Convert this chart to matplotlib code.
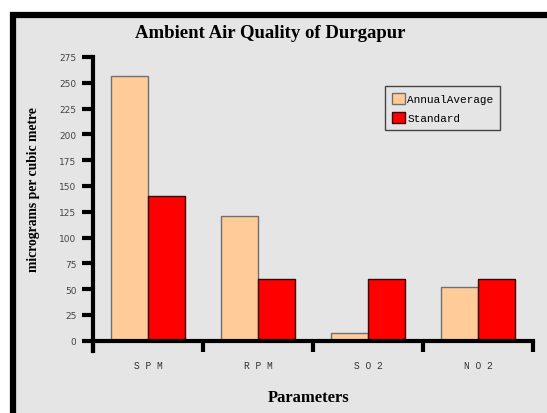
import numpy as np
import matplotlib
matplotlib.use("Agg")
import matplotlib.pyplot as plt
from matplotlib.patches import Rectangle

# data
categories = ["S P M", "R P M", "S O 2", "N O 2"]
annual_average = [257, 121, 7, 52]
standard = [140, 60, 60, 60]
y_ticks = list(range(0, 276, 25))

bg = "#e5e5e5"

fig = plt.figure(figsize=(5.47, 4.14), dpi=100)
fig.patch.set_facecolor("white")

# gray panel with thick black border (top/left visible, rest cropped)
frame = Rectangle((13 / 547, -0.05), 1.2, (414 - 16) / 414 + 0.05,
                  transform=fig.transFigure, facecolor=bg, edgecolor="black",
                  linewidth=4.5, zorder=0)
fig.patches.append(frame)

ax = fig.add_axes([93 / 547, 1 - 352 / 414, (533 - 93) / 547, (352 - 58) / 414])
ax.set_zorder(2)
ax.patch.set_alpha(0)

x = np.arange(len(categories))
w = 1 / 3
ax.bar(x - w / 2, annual_average, width=w, color="#ffcc99", edgecolor="#707070",
       linewidth=1, label="AnnualAverage", zorder=2)
ax.bar(x + w / 2, standard, width=w, color="#ff0000", edgecolor="#3a0000",
       linewidth=1, label="Standard", zorder=2)

ax.set_xlim(-0.5, len(categories) - 0.5)
ax.set_ylim(-10, 275)
ax.spines["top"].set_visible(False)
ax.spines["right"].set_visible(False)
ax.spines["bottom"].set_position(("data", 0))
for s in ["left", "bottom"]:
    ax.spines[s].set_linewidth(3)
ax.spines["left"].set_bounds(-10, 275)

ax.set_yticks(y_ticks)
ax.set_yticklabels([str(v) for v in y_ticks], fontsize=6.5, color="#444444",
                   family="DejaVu Sans")
ax.tick_params(axis="y", length=8, width=3, pad=4)

ax.set_xticks(np.arange(len(categories) + 1) - 0.5)
ax.set_xticklabels([])
ax.tick_params(axis="x", length=8, width=3, direction="out")
for i, c in enumerate(categories):
    ax.text(i, -24, c, ha="center", va="center", fontsize=6.9, color="#333333",
            family="Liberation Mono")

leg = ax.legend(loc="upper left", bbox_to_anchor=((385 - 93) / 440, 1 - (87 - 58) / 294),
                prop={"family": "Liberation Mono", "size": 8}, frameon=True,
                fancybox=False, edgecolor="#444444", facecolor=bg, framealpha=1,
                handlelength=1.2, handleheight=1.15, handletextpad=0.2,
                borderpad=0.6, labelspacing=0.7, borderaxespad=0)
leg.get_frame().set_linewidth(1)

fig.text(270 / 547, 1 - 34 / 414, "Ambient Air Quality of Durgapur",
         ha="center", va="center", family="Liberation Serif",
         fontweight="bold", fontsize=13.5, zorder=3)
fig.text(34 / 547, 1 - 190 / 414, "micrograms per cubic metre", rotation=90,
         ha="center", va="center", family="Liberation Serif",
         fontweight="bold", fontsize=9.8, zorder=3)
fig.text(309 / 547, 1 - 398 / 414, "Parameters", ha="center", va="center",
         family="Liberation Serif", fontweight="bold", fontsize=12, zorder=3)

fig.savefig("out.png", dpi=100, facecolor=fig.get_facecolor())
